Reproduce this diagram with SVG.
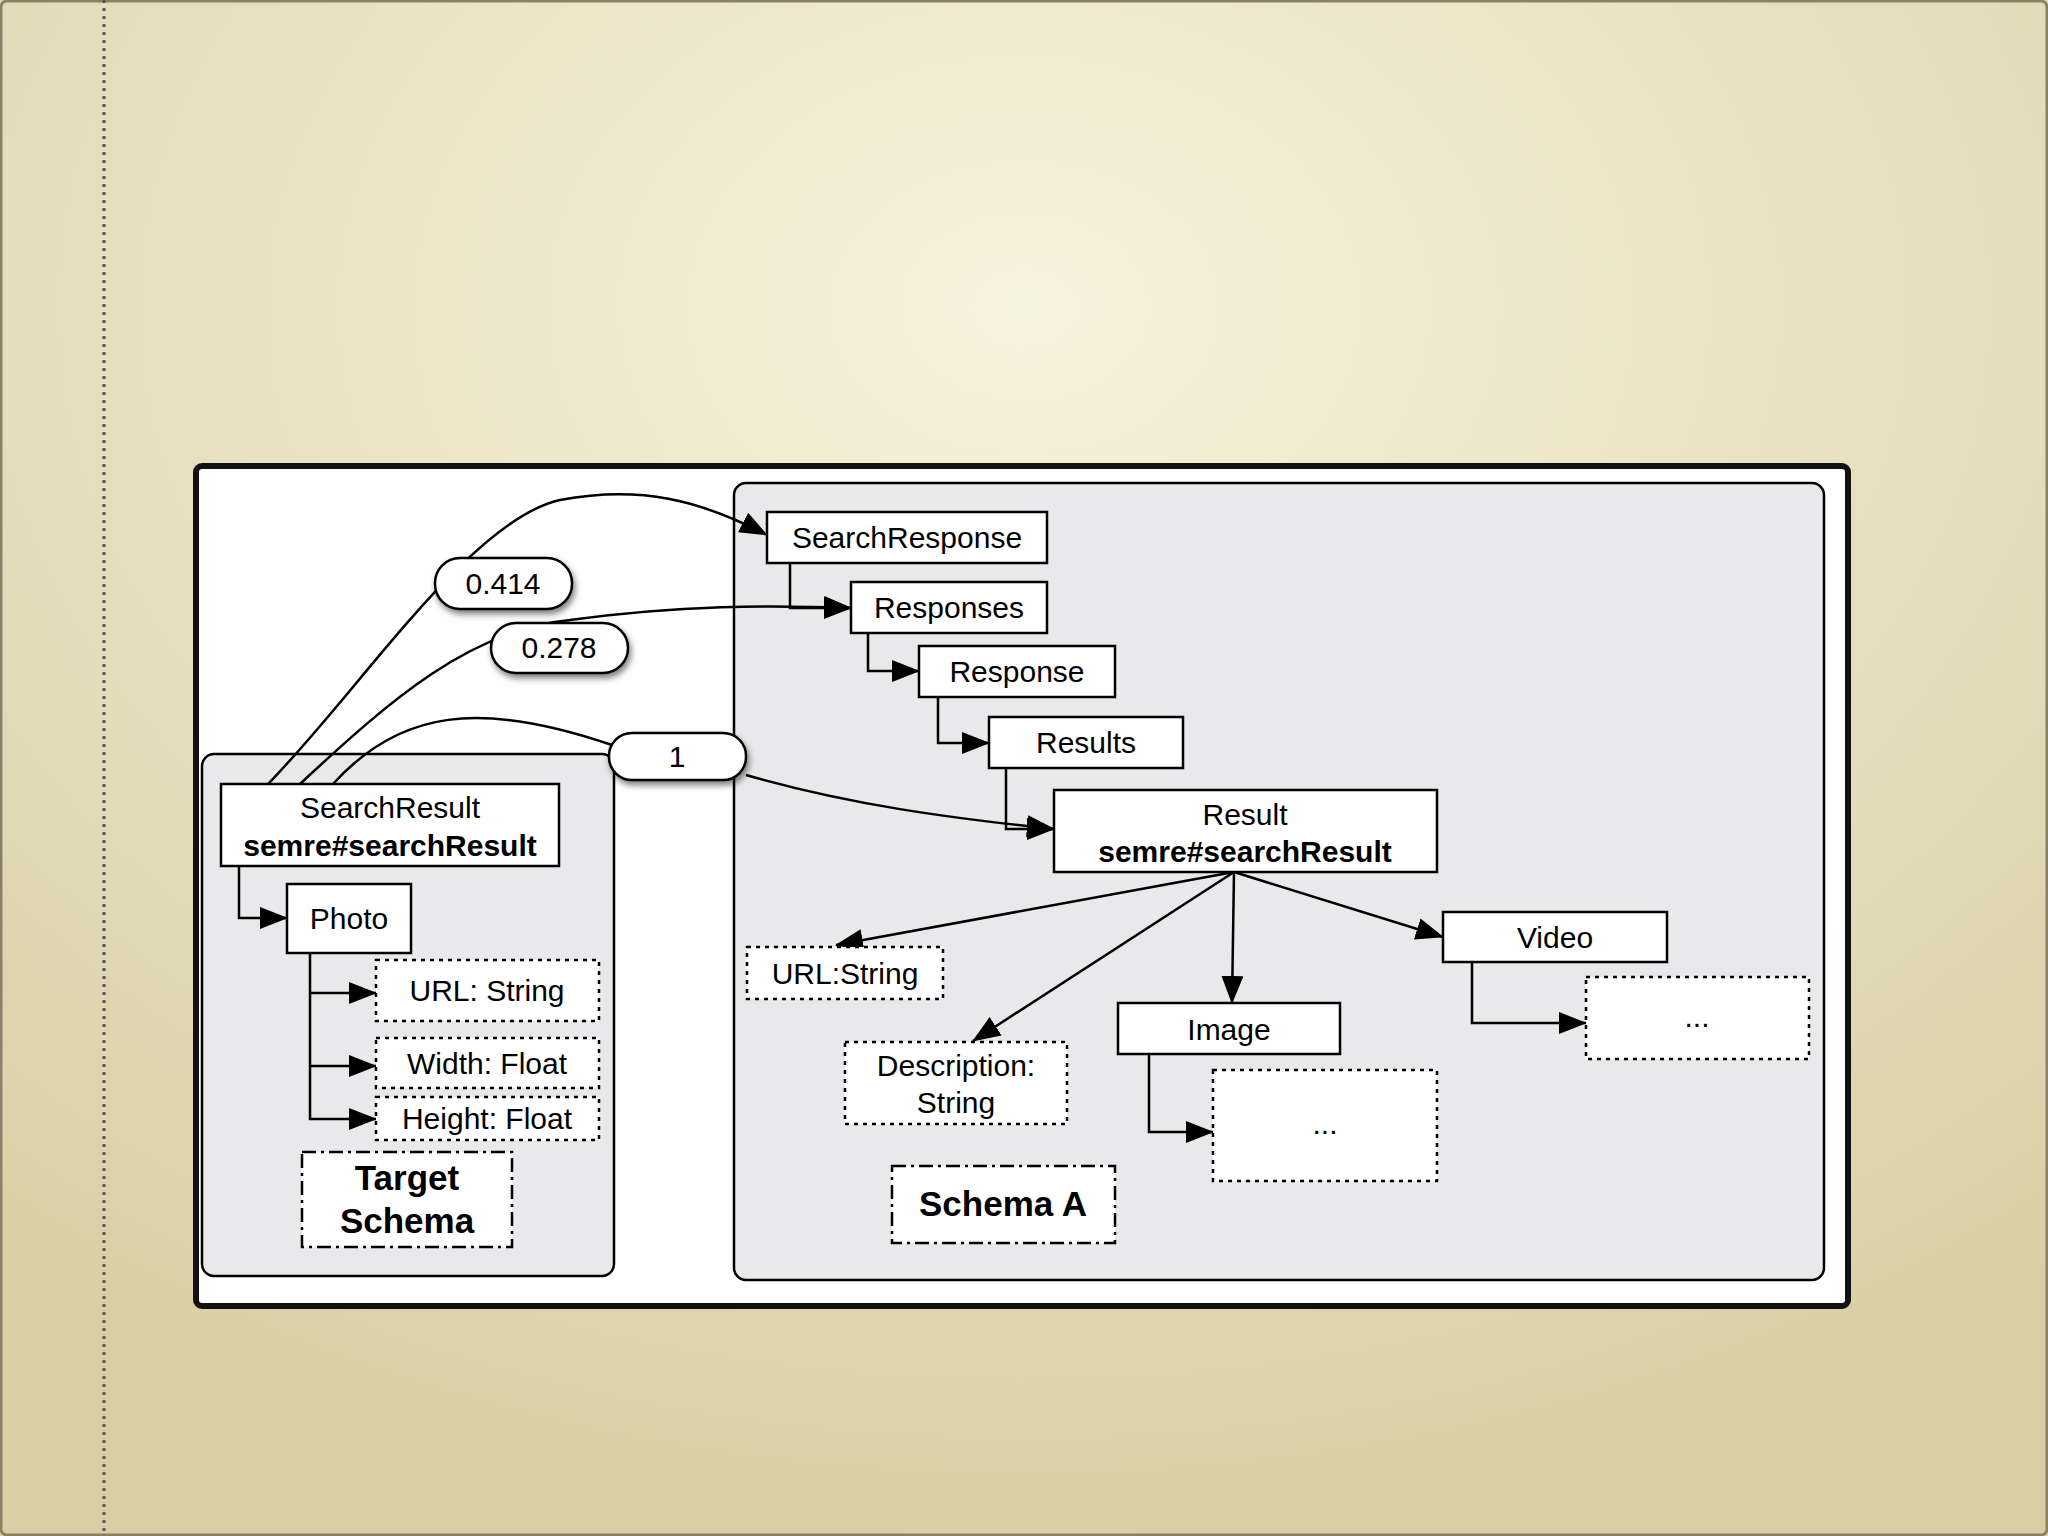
<svg xmlns="http://www.w3.org/2000/svg" width="2048" height="1536" viewBox="0 0 2048 1536">
<defs>
<radialGradient id="bg" cx="50%" cy="20%" r="80%"><stop offset="0" stop-color="#f7f2dc"/><stop offset="1" stop-color="#d9cfa6"/></radialGradient>
<marker id="ah" markerWidth="28" markerHeight="22" refX="27" refY="11" orient="auto" markerUnits="userSpaceOnUse" viewBox="0 0 28 22"><path d="M0,0 L28,11 L0,22 z" fill="#000"/></marker>
<filter id="sh" x="-20%" y="-20%" width="140%" height="160%"><feDropShadow dx="2" dy="4" stdDeviation="3" flood-opacity="0.5"/></filter>
</defs>
<style>
text{font-family:"Liberation Sans",Arial,sans-serif;fill:#000;text-anchor:middle}
.t{font-size:30px}
.b{font-size:30px;font-weight:bold}
.lb{font-size:35px;font-weight:bold}
.box{fill:#fff;stroke:#000;stroke-width:2.5}
.dot{fill:#fff;stroke:#000;stroke-width:2.5;stroke-dasharray:4 5}
.dd{fill:#fff;stroke:#000;stroke-width:2.5;stroke-dasharray:14 5 3 5}
.pan{fill:#e9e8ea;stroke:#000;stroke-width:2.5}
.c{fill:none;stroke:#000;stroke-width:2.5}
.a{fill:none;stroke:#000;stroke-width:2.5;marker-end:url(#ah)}
.pill{fill:#fff;stroke:#000;stroke-width:2.5;filter:url(#sh)}
</style>
<rect width="2048" height="1536" fill="url(#bg)"/>
<rect x="1" y="1" width="2046" height="1534" fill="none" stroke="#8a8266" stroke-width="3" rx="6"/>
<line x1="104" y1="0" x2="104" y2="1536" stroke="#555" stroke-width="3" stroke-dasharray="3 5"/>
<rect x="196" y="466" width="1652" height="840" fill="#fff" stroke="#111" stroke-width="6" rx="6"/>
<rect id="target-panel" class="pan" x="202" y="754" width="412" height="522" rx="12"/>
<rect id="schemaA-panel" class="pan" x="734" y="483" width="1090" height="797" rx="12"/>

<g id="connectors">
<path class="a" d="M268,784 C360,690 470,520 560,500 C640,485 700,500 767,535"/>
<path class="a" d="M300,784 C390,700 470,630 570,620 C680,605 770,605 851,608"/>
<path class="c" d="M333,784 C400,710 480,700 612,745"/>
<path class="a" d="M746,775 C850,805 950,818 1054,829"/>
<path class="a" d="M790,563 V608 H851"/>
<path class="a" d="M868,633 V671 H919"/>
<path class="a" d="M938,697 V743 H989"/>
<path class="a" d="M1006,768 V829 H1054"/>
<path class="a" d="M1234,872 L836,945"/>
<path class="a" d="M1234,872 L973,1041"/>
<path class="a" d="M1234,872 L1232,1003"/>
<path class="a" d="M1234,872 L1443,937"/>
<path class="a" d="M1149,1054 V1132 H1213"/>
<path class="a" d="M1472,962 V1023 H1586"/>
<path class="a" d="M239,866 V918 H287"/>
<path class="a" d="M310,953 V1119 H376"/>
<path class="a" d="M310,993 H376"/>
<path class="a" d="M310,1066 H376"/>
</g>

<g id="l0414"><rect class="pill" x="435" y="558" width="137" height="51" rx="25"/><text class="t" x="503" y="594">0.414</text></g>
<g id="l0278"><rect class="pill" x="491" y="623" width="137" height="50" rx="25"/><text class="t" x="559" y="658">0.278</text></g>
<g id="l1"><rect class="pill" x="609" y="733" width="137" height="47" rx="23"/><text class="t" x="677" y="767">1</text></g>

<g id="searchresponse"><rect class="box" x="767" y="512" width="280" height="51"/><text class="t" x="907" y="548">SearchResponse</text></g>
<g id="responses"><rect class="box" x="851" y="582" width="196" height="51"/><text class="t" x="949" y="618">Responses</text></g>
<g id="response"><rect class="box" x="919" y="646" width="196" height="51"/><text class="t" x="1017" y="682">Response</text></g>
<g id="results"><rect class="box" x="989" y="717" width="194" height="51"/><text class="t" x="1086" y="753">Results</text></g>
<g id="result"><rect class="box" x="1054" y="790" width="383" height="82"/><text class="t" x="1245" y="825">Result</text><text class="b" x="1245" y="862">semre#searchResult</text></g>
<g id="urlstring"><rect class="dot" x="747" y="947" width="196" height="52"/><text class="t" x="845" y="984">URL:String</text></g>
<g id="description"><rect class="dot" x="845" y="1042" width="222" height="82"/><text class="t" x="956" y="1076">Description:</text><text class="t" x="956" y="1113">String</text></g>
<g id="image"><rect class="box" x="1118" y="1003" width="222" height="51"/><text class="t" x="1229" y="1040">Image</text></g>
<g id="image-more"><rect class="dot" x="1213" y="1070" width="224" height="111"/><text class="t" x="1325" y="1134">...</text></g>
<g id="video"><rect class="box" x="1443" y="912" width="224" height="50"/><text class="t" x="1555" y="948">Video</text></g>
<g id="video-more"><rect class="dot" x="1586" y="977" width="223" height="82"/><text class="t" x="1697" y="1027">...</text></g>
<g id="schemaA-label"><rect class="dd" x="892" y="1166" width="223" height="77"/><text class="lb" x="1003" y="1216">Schema A</text></g>

<g id="searchresult"><rect class="box" x="221" y="784" width="338" height="82"/><text class="t" x="390" y="818">SearchResult</text><text class="b" x="390" y="856">semre#searchResult</text></g>
<g id="photo"><rect class="box" x="287" y="884" width="124" height="69"/><text class="t" x="349" y="929">Photo</text></g>
<g id="url"><rect class="dot" x="376" y="960" width="223" height="61"/><text class="t" x="487" y="1001">URL: String</text></g>
<g id="width"><rect class="dot" x="376" y="1038" width="223" height="50"/><text class="t" x="487" y="1074">Width: Float</text></g>
<g id="height"><rect class="dot" x="376" y="1097" width="223" height="43"/><text class="t" x="487" y="1129">Height: Float</text></g>
<g id="target-label"><rect class="dd" x="302" y="1152" width="210" height="95"/><text class="lb" x="407" y="1190">Target</text><text class="lb" x="407" y="1233">Schema</text></g>
</svg>
